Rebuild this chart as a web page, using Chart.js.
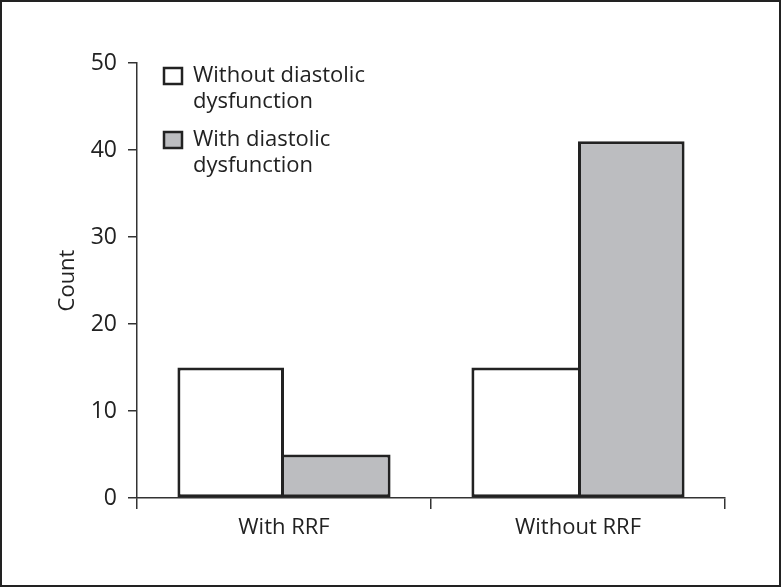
<!DOCTYPE html>
<html>
<head>
<meta charset="utf-8">
<script src="https://cdn.jsdelivr.net/npm/chart.js@4"></script>
<style>
    html, body { margin: 0; padding: 0; background: #fff; }
    #frame { box-sizing: border-box; width: 781px; height: 587px; border: 2px solid #222; background: #fff; }
    #chart { display: block; }
</style>
</head>
<body>
<div id="frame"><canvas id="chart" width="777" height="583"></canvas></div>
<script>
// Data
const categories = ['With RRF', 'Without RRF'];
const seriesNames = [['Without diastolic', 'dysfunction'], ['With diastolic', 'dysfunction']];
const withoutDiastolic = [15, 15];
const withDiastolic = [5, 41];
const yMin = 0, yMax = 50, yStep = 10;

const ink = '#222';
const fontFamily = '"Open Sans", "Noto Sans", sans-serif';
const bw = 3;

// legend drawn inside the plot, top-left, two-line labels
const boxLegend = {
    id: 'boxLegend',
    afterDraw(chart) {
        const { ctx, chartArea } = chart;
        ctx.save();
        ctx.font = '22px ' + fontFamily;
        ctx.textBaseline = 'middle';
        ctx.textAlign = 'left';
        chart.data.datasets.forEach((ds, i) => {
            const x = chartArea.left + 27;
            const y = chartArea.top + 5 + i * 64;
            ctx.fillStyle = ds.backgroundColor;
            ctx.fillRect(x, y, 18, 16);
            ctx.lineWidth = 2.5;
            ctx.strokeStyle = ink;
            ctx.strokeRect(x, y, 18, 16);
            ctx.fillStyle = ink;
            seriesNames[i].forEach((line, j) => {
                ctx.fillText(line, x + 29, y + 8 + j * 26);
            });
        });
        ctx.restore();
    }
};

// shared edge between the two bars of a group is drawn once, by the taller bar
const whiteBorders = withoutDiastolic.map((v, i) => ({ top: bw, left: bw, bottom: bw, right: v >= withDiastolic[i] ? bw : 0 }));
const grayBorders = withDiastolic.map((v, i) => ({ top: bw, right: bw, bottom: bw, left: v > withoutDiastolic[i] ? bw : 0 }));

new Chart(document.getElementById('chart'), {
    type: 'bar',
    data: {
        labels: categories,
        datasets: [
            {
                label: seriesNames[0].join(' '),
                data: withoutDiastolic,
                backgroundColor: '#ffffff',
                borderColor: ink,
                borderWidth: whiteBorders,
                borderSkipped: false,
                categoryPercentage: 0.725,
                barPercentage: 1
            },
            {
                label: seriesNames[1].join(' '),
                data: withDiastolic,
                backgroundColor: '#bcbdc0',
                borderColor: ink,
                borderWidth: grayBorders,
                borderSkipped: false,
                categoryPercentage: 0.725,
                barPercentage: 1
            }
        ]
    },
    options: {
        responsive: false,
        animation: false,
        layout: { padding: { top: 61, right: 54, left: 0, bottom: 0 } },
        plugins: {
            legend: { display: false },
            tooltip: { enabled: false }
        },
        scales: {
            x: {
                afterFit(scale) { scale.height = 87; },
                grid: { offset: true, drawOnChartArea: false, tickLength: 11, color: '#333', lineWidth: 1.5 },
                border: { color: '#333', width: 1.5 },
                ticks: { color: ink, padding: 6, font: { family: fontFamily, size: 22 } }
            },
            y: {
                min: yMin,
                max: yMax,
                afterFit(scale) { scale.width = 135; },
                grid: { drawOnChartArea: false, tickLength: 9, color: '#333', lineWidth: 1.5 },
                border: { color: '#333', width: 1.5 },
                ticks: { stepSize: yStep, color: ink, padding: 11, font: { family: fontFamily, size: 23 } },
                title: { display: true, text: 'Count', color: ink, padding: { top: 53 }, font: { family: fontFamily, size: 22, lineHeight: 1.2 } }
            }
        }
    },
    plugins: [boxLegend]
});
</script>
</body>
</html>
